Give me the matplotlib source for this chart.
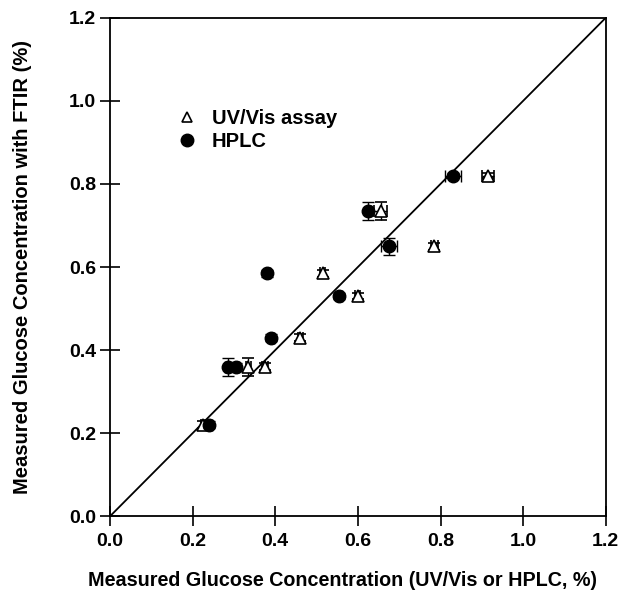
import matplotlib
matplotlib.use("Agg")
import matplotlib.pyplot as plt
from matplotlib.lines import Line2D

plt.rcParams['font.family'] = ['Liberation Sans', 'DejaVu Sans']
plt.rcParams['font.weight'] = 'bold'

ftir = [0.22, 0.36, 0.36, 0.43, 0.53, 0.585, 0.65, 0.735, 0.82]
ftir_err = [0.008, 0.022, 0.008, 0.008, 0.008, 0.008, 0.008, 0.022, 0.006]
uv = [0.225, 0.335, 0.375, 0.46, 0.60, 0.515, 0.785, 0.655, 0.915]
uv_err = [0.006, 0.006, 0.008, 0.006, 0.006, 0.006, 0.008, 0.015, 0.015]
hplc = [0.24, 0.285, 0.305, 0.39, 0.555, 0.38, 0.675, 0.625, 0.83]
hplc_err = [0.006, 0.006, 0.006, 0.006, 0.006, 0.006, 0.02, 0.006, 0.02]
hplc_yerr = [0.008, 0.022, 0.008, 0.008, 0.008, 0.008, 0.02, 0.022, 0.006]

fig = plt.figure(figsize=(6.29, 5.94), dpi=100)
ax = fig.add_axes([0.175, 0.131, 0.788, 0.839])

ax.plot([0, 1.2], [0, 1.2], color='black', lw=1.3, zorder=1)

ax.errorbar(uv, ftir, xerr=uv_err, yerr=ftir_err, fmt='^', mfc='white', mec='black',
            ecolor='black', ms=8.5, mew=1.2, capsize=4, elinewidth=1, zorder=3,
            label='UV/Vis assay')
ax.errorbar(hplc, ftir, xerr=hplc_err, yerr=hplc_yerr, fmt='o', mfc='black', mec='black',
            ecolor='black', ms=9, capsize=4, elinewidth=1, zorder=4, label='HPLC')

ax.set_xlim(0, 1.2)
ax.set_ylim(0, 1.2)
ticks = [0.0, 0.2, 0.4, 0.6, 0.8, 1.0, 1.2]
ax.set_xticks(ticks)
ax.set_yticks(ticks)
ax.set_xticklabels([f"{t:.1f}" for t in ticks], fontsize=14, fontweight='bold')
ax.set_yticklabels([f"{t:.1f}" for t in ticks], fontsize=14, fontweight='bold')
ax.tick_params(direction='inout', length=14, width=1.2, pad=3)
ax.tick_params(axis='x', pad=5)
for s in ax.spines.values():
    s.set_linewidth(1.3)

ax.set_xlabel('Measured Glucose Concentration (UV/Vis or HPLC, %)', fontsize=14.2,
              fontweight='bold', va='center', ha='center')
ax.xaxis.set_label_coords(342 / 629, 1 - 581 / 594, transform=fig.transFigure)
ax.set_ylabel('Measured Glucose Concentration with FTIR (%)', fontsize=14.5,
              fontweight='bold', labelpad=27)

handles = [Line2D([], [], marker='^', ls='', mfc='white', mec='black', ms=7, mew=1.2),
           Line2D([], [], marker='o', ls='', mfc='black', mec='black', ms=9)]
ax.legend(handles, ['UV/Vis assay', 'HPLC'], loc='upper left', bbox_to_anchor=(0.088, 0.853),
          frameon=False, prop={'weight': 'bold', 'size': 14.5}, handletextpad=0.5,
          labelspacing=0.2, handlelength=1.5)

fig.savefig('out.png', dpi=100)
